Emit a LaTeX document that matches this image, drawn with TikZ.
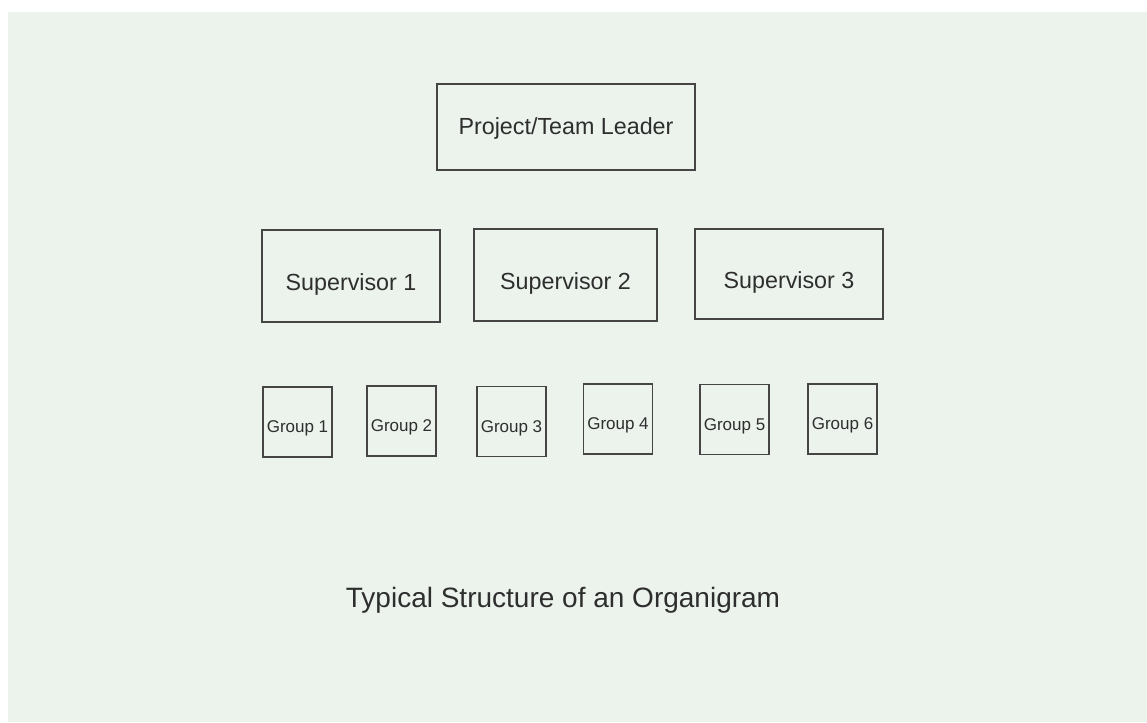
\documentclass[tikz,border=0pt]{standalone}
\usepackage{fontspec}
\setmainfont{Liberation Sans}
\definecolor{bgc}{HTML}{EBF3EC}
\definecolor{txt}{HTML}{2E2E2E}
\definecolor{edge}{HTML}{454545}
\tikzset{
  box/.style={draw=edge, line width=1.8pt, rectangle, inner sep=0pt, text=txt, text depth=0pt},
  bigbox/.style={box, font=\fontsize{23.3}{26}\selectfont, text height=29.7pt},
  leadbox/.style={box, font=\fontsize{23.3}{26}\selectfont, text height=14.7pt},
  grpbox/.style={box, font=\fontsize{17}{20}\selectfont, text height=21pt, minimum width=69pt, minimum height=70pt},
}
\begin{document}
\begin{tikzpicture}[x=1pt,y=-1pt]
\useasboundingbox (0,0) rectangle (1147,722);
\fill[white] (0,0) rectangle (1147,722);
\fill[bgc] (8,12) rectangle (1147,722);
\node[leadbox, minimum width=258pt, minimum height=86pt] (lead) at (566,127) {Project/Team Leader};
\node[bigbox, minimum width=178pt, minimum height=92pt] (s1) at (351,276) {Supervisor 1};
\node[bigbox, minimum width=183pt, minimum height=92pt] (s2) at (565.5,275) {Supervisor 2};
\node[bigbox, minimum width=188pt, minimum height=90pt] (s3) at (789,274) {Supervisor 3};
\node[grpbox] (g1) at (297.5,422) {Group 1};
\node[grpbox] (g2) at (401.5,421) {Group 2};
\node[grpbox] (g3) at (511.5,421.5) {Group 3};
\node[grpbox] (g4) at (618,419) {Group 4};
\node[grpbox] (g5) at (734.5,419.5) {Group 5};
\node[grpbox] (g6) at (842.5,419) {Group 6};
\node[text=txt, font=\fontsize{28}{32}\selectfont, inner sep=0pt] (cap) at (563,600) {Typical Structure of an Organigram};
\end{tikzpicture}
\end{document}
